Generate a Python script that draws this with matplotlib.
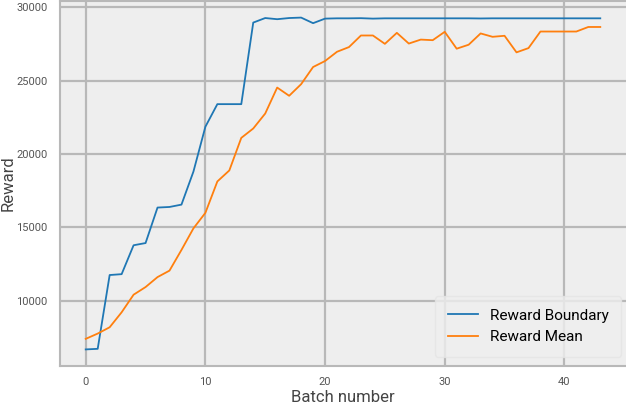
import matplotlib
matplotlib.use("Agg")
import matplotlib.pyplot as plt

# Values
batch = list(range(44))
reward_boundary = [6680, 6720, 11750, 11810, 13780, 13930, 16350, 16390, 16550, 18800,
                   21860, 23400, 23400, 23400, 28960, 29270, 29190, 29270, 29300, 28920,
                   29230, 29250, 29250, 29260, 29230, 29250, 29250, 29250, 29250, 29250,
                   29250, 29250, 29250, 29240, 29250, 29250, 29250, 29250, 29250, 29250,
                   29250, 29250, 29250, 29250]
reward_mean = [7400, 7760, 8190, 9210, 10410, 10930, 11610, 12050, 13460, 14930,
               15990, 18130, 18880, 21100, 21740, 22760, 24530, 23970, 24760, 25930,
               26340, 26970, 27290, 28080, 28080, 27510, 28260, 27530, 27800, 27760,
               28330, 27180, 27450, 28220, 27990, 28060, 26930, 27220, 28350, 28350,
               28350, 28350, 28660, 28660]

plt.rcParams["font.family"] = ["Roboto", "DejaVu Sans"]

fig = plt.figure(figsize=(6.26, 4.04), dpi=100)
ax = fig.add_axes([60 / 626, 38 / 404, 566 / 626, 365 / 404])
ax.set_facecolor("#eeeeee")

ax.plot(batch, reward_boundary, color="#1f77b4", lw=1.3, label="Reward Boundary")
ax.plot(batch, reward_mean, color="#ff7f0e", lw=1.3, label="Reward Mean")

ax.grid(True, color="#b8b8b8", lw=1.6)
ax.set_axisbelow(True)
for s in ax.spines.values():
    s.set_color("#b8b8b8")
    s.set_linewidth(1.5)
ax.spines["right"].set_visible(False)

ax.set_yticks([10000, 15000, 20000, 25000, 30000])
ax.set_xticks([0, 10, 20, 30, 40])
ax.tick_params(axis="x", length=0, labelsize=8, colors="#555555", pad=8)
ax.tick_params(axis="y", length=0, labelsize=8, colors="#555555", pad=9)
ax.set_xlabel("Batch number", fontsize=12, color="#444444")
ax.set_ylabel("Reward", fontsize=12, color="#444444")
ax.xaxis.set_label_coords(0.5, -0.066)
ax.yaxis.set_label_coords(-0.079, 0.5)

leg = ax.legend(loc="lower right", fontsize=11, frameon=True, borderpad=0.8,
                handlelength=2.0, handletextpad=0.75, bbox_to_anchor=(1.004, 0.005))
leg.get_frame().set_facecolor("#eeeeee")
leg.get_frame().set_edgecolor("#e4e4e4")
leg.get_frame().set_alpha(0.8)

fig.savefig("out.png", dpi=100)
